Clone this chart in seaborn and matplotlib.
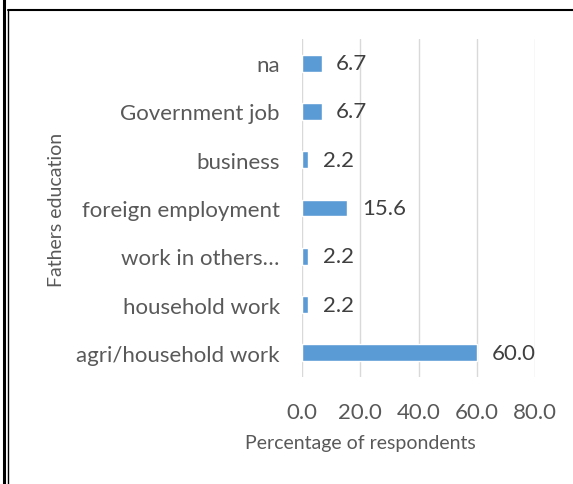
import pandas as pd
import matplotlib.pyplot as plt
import seaborn as sns
from matplotlib.lines import Line2D

sns.set_theme(style="white")
plt.rcParams["font.family"] = ["Lato", "DejaVu Sans"]

# Data
occupations = [
    "na",
    "Government job",
    "business",
    "foreign employment",
    "work in others\u2026",
    "household work",
    "agri/household work",
]
percentages = [6.7, 6.7, 2.2, 15.6, 2.2, 2.2, 60.0]
x_ticks = [0, 20, 40, 60, 80]

df = pd.DataFrame({"occupation": occupations, "pct": percentages})

fig = plt.figure(figsize=(5.73, 4.85), dpi=100)
ax = fig.add_axes([302 / 573, 107 / 485, 233 / 573, 338 / 485])

sns.barplot(data=df, x="pct", y="occupation", order=occupations,
            color="#5B9BD5", saturation=1, width=0.35, ax=ax)

ax.set_xlim(0, 80)
ax.set_xticks(x_ticks)
ax.set_xticklabels([f"{t:.1f}" for t in x_ticks])
ax.xaxis.grid(True, color="#D9D9D9", linewidth=1)
ax.set_axisbelow(True)
for s in ax.spines.values():
    s.set_visible(False)
ax.tick_params(axis="both", length=0, labelsize=16, colors="#595959")
ax.tick_params(axis="y", pad=16)
ax.tick_params(axis="x", pad=18)

ax.bar_label(ax.containers[0], labels=[f"{v:.1f}" for v in percentages],
             padding=10.5, fontsize=16, color="#404040")

ax.set_xlabel("")
ax.set_ylabel("")
fig.text(360 / 573, 1 - 444 / 485, "Percentage of respondents", fontsize=14,
         color="#595959", ha="center", va="center")
fig.text(57 / 573, 1 - 210 / 485, "Fathers education", fontsize=14,
         color="#595959", ha="center", va="center", rotation=90)

# frame lines from the document
fig.add_artist(Line2D([4 / 573, 4 / 573], [0, 1], transform=fig.transFigure, color="black", lw=2.2))
fig.add_artist(Line2D([8 / 573, 8 / 573], [0, 1 - 11 / 485], transform=fig.transFigure, color="black", lw=1))
fig.add_artist(Line2D([8 / 573, 1], [1 - 11 / 485, 1 - 11 / 485], transform=fig.transFigure, color="black", lw=1.5))

fig.savefig("out.png", dpi=100)
